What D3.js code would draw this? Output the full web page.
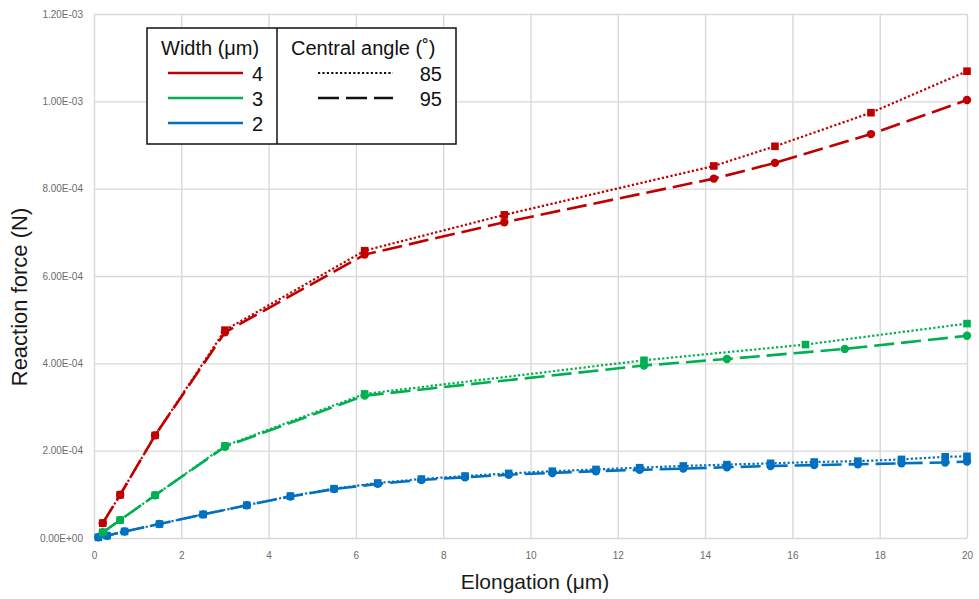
<!DOCTYPE html>
<meta charset="utf-8">
<script src="https://cdn.jsdelivr.net/npm/d3@7"></script>
<style>
  body { margin: 0; background: #fff; }
  .tick text { font-family: "Liberation Sans", Arial, sans-serif; font-size: 10px; fill: #6b6b6b; }
  .tick line { stroke: #d9d9d9; stroke-width: 1.4; }
</style>
<div id="chart"></div>
<script>

// values: [elongation (um), reaction force (N)]
var w4_85 = [[0.2,3.4e-5],[0.6,9.9e-5],[1.4,2.35e-4],[3.0,4.76e-4],[6.2,6.58e-4],[9.4,7.40e-4],
             [14.2,8.52e-4],[15.6,8.97e-4],[17.8,9.74e-4],[20,1.069e-3]];
var w4_95 = [[0.2,3.4e-5],[0.6,9.9e-5],[1.4,2.35e-4],[3.0,4.71e-4],[6.2,6.49e-4],[9.4,7.23e-4],
             [14.2,8.23e-4],[15.6,8.59e-4],[17.8,9.25e-4],[20,1.003e-3]];
var w3_85 = [[0.2,1.3e-5],[0.6,4.1e-5],[1.4,9.8e-5],[3.0,2.11e-4],[6.2,3.30e-4],[12.6,4.07e-4],
             [16.3,4.43e-4],[20,4.91e-4]];
var w3_95 = [[0.2,1.3e-5],[0.6,4.1e-5],[1.4,9.8e-5],[3.0,2.09e-4],[6.2,3.26e-4],[12.6,3.95e-4],
             [14.5,4.10e-4],[17.2,4.33e-4],[20,4.63e-4]];
var w2_85 = [[0.1,1.6e-6],[0.3,5.3e-6],[0.7,1.5e-5],[1.5,3.2e-5],[2.5,5.4e-5],[3.5,7.5e-5],[4.5,9.6e-5],
             [5.5,1.13e-4],[6.5,1.26e-4],[7.5,1.35e-4],[8.5,1.42e-4],[9.5,1.48e-4],[10.5,1.53e-4],
             [11.5,1.57e-4],[12.5,1.61e-4],[13.5,1.65e-4],[14.5,1.68e-4],[15.5,1.71e-4],[16.5,1.74e-4],
             [17.5,1.76e-4],[18.5,1.80e-4],[19.5,1.86e-4],[20,1.87e-4]];
var w2_95 = [[0.1,1.6e-6],[0.3,5.3e-6],[0.7,1.5e-5],[1.5,3.2e-5],[2.5,5.4e-5],[3.5,7.5e-5],[4.5,9.5e-5],
             [5.5,1.12e-4],[6.5,1.24e-4],[7.5,1.33e-4],[8.5,1.39e-4],[9.5,1.45e-4],[10.5,1.49e-4],
             [11.5,1.53e-4],[12.5,1.56e-4],[13.5,1.59e-4],[14.5,1.62e-4],[15.5,1.65e-4],[16.5,1.67e-4],
             [17.5,1.69e-4],[18.5,1.71e-4],[19.5,1.73e-4],[20,1.75e-4]];

var xTicks = [0,2,4,6,8,10,12,14,16,18,20];
var yTicks = [0,2e-4,4e-4,6e-4,8e-4,1e-3,1.2e-3];
var widths = ["4","3","2"];
var angles = ["85","95"];
var colors = {"4": "#C00000", "3": "#00B050", "2": "#0070C0"};

// drawing order: bottom curves first, dashed (95) under dotted (85)
var series = [
  {w: "2", a: "95", data: w2_95}, {w: "2", a: "85", data: w2_85},
  {w: "3", a: "95", data: w3_95}, {w: "3", a: "85", data: w3_85},
  {w: "4", a: "95", data: w4_95}, {w: "4", a: "85", data: w4_85}
];
var dash = {"85": "2.2,2.2", "95": "20,7"};

var margin = {top: 14, right: 12, bottom: 61, left: 94},
    width = 979 - margin.left - margin.right,
    height = 599 - margin.top - margin.bottom;

var svg = d3.select("#chart")
  .append("svg")
    .attr("width", 979)
    .attr("height", 599)
  .append("g")
    .attr("transform", "translate(" + margin.left + "," + margin.top + ")");

var x = d3.scaleLinear().domain([0, 20]).range([0, width]);
var y = d3.scaleLinear().domain([0, 1.2e-3]).range([height, 0]);

// 1.20E-03 style labels
function sci(d) {
  var s = d.toExponential(2).toUpperCase().split("E");
  var e = +s[1];
  return s[0] + "E" + (e < 0 ? "-" : "+") + String(Math.abs(e)).padStart(2, "0");
}

var gx = svg.append("g")
    .attr("transform", "translate(0," + height + ")")
    .call(d3.axisBottom(x).tickValues(xTicks).tickSize(-height).tickPadding(14));
gx.select(".domain").remove();

var gy = svg.append("g")
    .call(d3.axisLeft(y).tickValues(yTicks).tickFormat(sci).tickSize(-width).tickPadding(11));
gy.select(".domain").remove();

var line = d3.line()
    .x(function(d) { return x(d[0]); })
    .y(function(d) { return y(d[1]); });

series.forEach(function(s) {
  var c = colors[s.w];
  svg.append("path")
      .datum(s.data)
      .attr("fill", "none")
      .attr("stroke", c)
      .attr("stroke-width", s.a == "85" ? 2.2 : 2.6)
      .attr("stroke-dasharray", dash[s.a])
      .attr("d", line);

  if (s.a == "85") {
    svg.append("g").selectAll("rect")
      .data(s.data)
      .enter().append("rect")
        .attr("x", function(d) { return x(d[0]) - 3.8; })
        .attr("y", function(d) { return y(d[1]) - 3.8; })
        .attr("width", 7.6)
        .attr("height", 7.6)
        .attr("fill", c);
  } else {
    svg.append("g").selectAll("circle")
      .data(s.data)
      .enter().append("circle")
        .attr("cx", function(d) { return x(d[0]); })
        .attr("cy", function(d) { return y(d[1]); })
        .attr("r", 4.2)
        .attr("fill", c);
  }
});

// axis titles
svg.append("text")
    .attr("x", 535 - margin.left)
    .attr("y", 589 - margin.top)
    .attr("text-anchor", "middle")
    .style("font-family", "Liberation Sans, Arial, sans-serif")
    .style("font-size", "21px")
    .style("fill", "#1a1a1a")
    .text("Elongation (\u03bcm)");

svg.append("text")
    .attr("transform", "translate(" + (27 - margin.left) + "," + (297 - margin.top) + ") rotate(-90)")
    .attr("text-anchor", "middle")
    .style("font-family", "Liberation Sans, Arial, sans-serif")
    .style("font-size", "22px")
    .style("fill", "#1a1a1a")
    .text("Reaction force (N)");

// legend, in page coordinates
var lg = d3.select("svg").append("g")
    .style("font-family", "Liberation Sans, Arial, sans-serif")
    .style("font-size", "20px")
    .style("fill", "#111");

lg.append("rect")
    .attr("x", 147).attr("y", 28).attr("width", 309).attr("height", 116)
    .attr("fill", "#fff").attr("stroke", "#111").attr("stroke-width", 1.5);
lg.append("line")
    .attr("x1", 277).attr("x2", 277).attr("y1", 28).attr("y2", 144)
    .attr("stroke", "#111").attr("stroke-width", 1.5);

lg.append("text").attr("x", 161).attr("y", 55).text("Width (\u03bcm)");
lg.append("text").attr("x", 291).attr("y", 55).text("Central angle (\u02da)");

widths.forEach(function(w, i) {
  lg.append("line")
      .attr("x1", 168).attr("x2", 243)
      .attr("y1", 73 + i * 25).attr("y2", 73 + i * 25)
      .attr("stroke", colors[w]).attr("stroke-width", 2.6);
  lg.append("text")
      .attr("x", 263).attr("y", 81 + i * 25)
      .attr("text-anchor", "end")
      .text(w);
});

angles.forEach(function(a, i) {
  lg.append("line")
      .attr("x1", 318).attr("x2", 393)
      .attr("y1", 73 + i * 25).attr("y2", 73 + i * 25)
      .attr("stroke", "#111")
      .attr("stroke-width", a == "85" ? 2.2 : 2.6)
      .attr("stroke-dasharray", a == "85" ? "2.2,2.2" : "21,7");
  lg.append("text")
      .attr("x", 442).attr("y", 81 + i * 25)
      .attr("text-anchor", "end")
      .text(a);
});

</script>
